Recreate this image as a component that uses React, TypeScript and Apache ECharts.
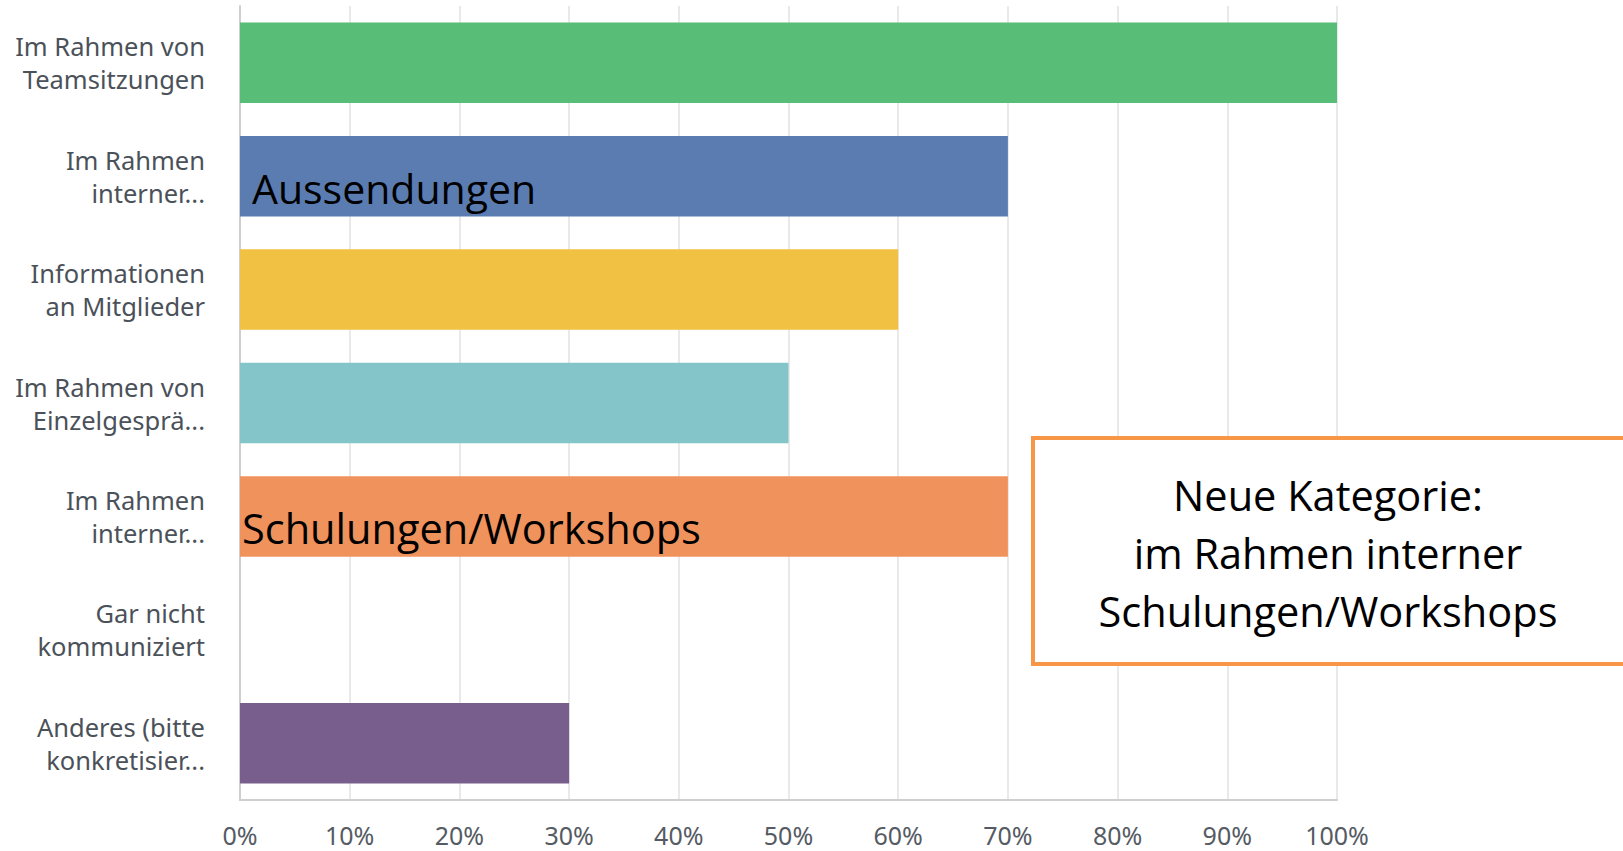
import React, { useEffect, useRef } from "react";
import * as echarts from "echarts";

const categories = [
  "Im Rahmen von\nTeamsitzungen",
  "Im Rahmen\ninterner...",
  "Informationen\nan Mitglieder",
  "Im Rahmen von\nEinzelgesprä...",
  "Im Rahmen\ninterner...",
  "Gar nicht\nkommuniziert",
  "Anderes (bitte\nkonkretisier...",
];
const values = [100, 70, 60, 50, 70, 0, 30];
const barColors = ["#57bd77", "#5a7cb1", "#f0c142", "#84c5ca", "#f0925c", "#c0c0c0", "#785e8c"];
const xTicks = [0, 10, 20, 30, 40, 50, 60, 70, 80, 90, 100];
const overlayTexts = ["Aussendungen", "Schulungen/Workshops"];
const boxLines = ["Neue Kategorie:", "im Rahmen interner", "Schulungen/Workshops"];

export default function App() {
  const ref = useRef<HTMLDivElement>(null);
  useEffect(() => {
    if (!ref.current) return;
    const chart = echarts.init(ref.current, null, { renderer: "svg" });
    chart.setOption({
      animation: false,
      grid: { left: 240, right: 286, top: 6, bottom: 51, containLabel: false },
      xAxis: {
        type: "value",
        min: xTicks[0],
        max: xTicks[xTicks.length - 1],
        interval: 10,
        axisLine: { show: true, lineStyle: { color: "#cfcfcf", width: 2 } },
        axisTick: { show: false },
        splitLine: { show: true, lineStyle: { color: "#e9e9e9", width: 2 } },
        axisLabel: {
          formatter: "{value}%",
          color: "#555b63",
          fontSize: 25,
          lineHeight: 26,
          fontFamily: "Noto Sans",
          margin: 22,
        },
      },
      yAxis: {
        type: "category",
        inverse: true,
        data: categories,
        axisLine: { show: true, lineStyle: { color: "#cfcfcf", width: 2 } },
        axisTick: { show: false },
        axisLabel: {
          color: "#4b5159",
          fontSize: 25.5,
          fontFamily: "Noto Sans",
          lineHeight: 33,
          margin: 35,
          align: "right",
        },
      },
      series: [
        {
          type: "bar",
          data: values.map((v, i) => ({ value: v, itemStyle: { color: barColors[i] } })),
          barCategoryGap: "29%",
        },
      ],
      graphic: [
        {
          type: "text",
          z: 100,
          left: 252,
          top: 167,
          style: { text: overlayTexts[0], font: "41px 'Open Sans'", fill: "#000" },
        },
        {
          type: "text",
          z: 100,
          left: 242,
          top: 507,
          style: { text: overlayTexts[1], font: "41.5px 'Open Sans'", fill: "#000" },
        },
        {
          type: "rect",
          z: 100,
          shape: { x: 1033, y: 438, width: 610, height: 226 },
          style: { fill: "#fff", stroke: "#f79646", lineWidth: 4 },
        },
        {
          type: "text",
          z: 101,
          x: 1328,
          y: 553,
          style: {
            text: boxLines.join("\n"),
            font: "41.5px 'Open Sans'",
            lineHeight: 58,
            fill: "#000",
            align: "center",
            verticalAlign: "middle",
          },
        },
      ],
    });
    return () => chart.dispose();
  }, []);
  return <div ref={ref} style={{ width: 1623, height: 851, position: "absolute", left: 0, top: 0 }} />;
}
